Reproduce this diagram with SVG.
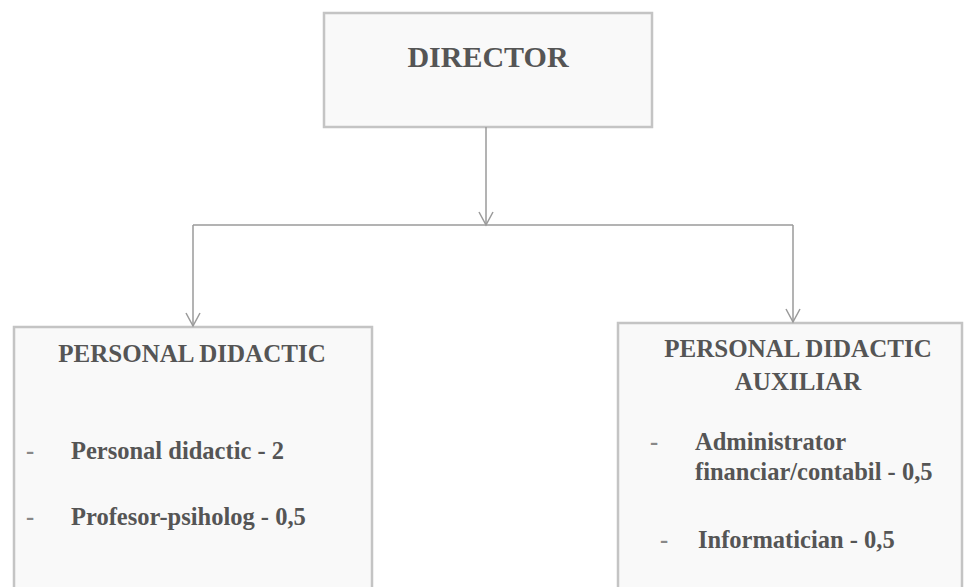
<svg xmlns="http://www.w3.org/2000/svg" width="964" height="587" viewBox="0 0 964 587">
<defs>
<style>
.box{fill:#f9f9f9;stroke:#c4c4c4;stroke-width:2.5}
.t{font-family:"Liberation Serif","Times New Roman",serif;font-weight:bold;fill:#555}
.h{font-size:25px}
.b{font-size:24.5px}
.d{fill:#888}
.con{fill:none;stroke:#9a9a9a;stroke-width:1.5}
</style>
<marker id="ah" markerWidth="16" markerHeight="16" refX="14" refY="8" orient="auto" markerUnits="userSpaceOnUse" viewBox="0 0 16 16">
<path d="M1,1 L14,8 L1,15" fill="none" stroke="#9a9a9a" stroke-width="1.5"/>
</marker>
</defs>
<rect width="964" height="587" fill="#ffffff"/>
<g id="director">
<rect class="box" x="324" y="13" width="328" height="114"/>
<text class="t" x="488" y="67" text-anchor="middle" font-size="30">DIRECTOR</text>
</g>
<g id="personal-didactic">
<rect class="box" x="14" y="327" width="358" height="280"/>
<text class="t h" x="192" y="362" text-anchor="middle">PERSONAL DIDACTIC</text>
<text class="t b d" x="26" y="459">-</text>
<text class="t b" x="71" y="459">Personal didactic - 2</text>
<text class="t b d" x="26" y="525">-</text>
<text class="t b" x="71" y="525">Profesor-psiholog - 0,5</text>
</g>
<g id="personal-didactic-auxiliar">
<rect class="box" x="618" y="323" width="344" height="284"/>
<text class="t h" x="798" y="357" text-anchor="middle">PERSONAL DIDACTIC</text>
<text class="t h" x="798" y="390" text-anchor="middle">AUXILIAR</text>
<text class="t b d" x="650" y="450">-</text>
<text class="t b" x="695" y="450">Administrator</text>
<text class="t b" x="695" y="480">financiar/contabil - 0,5</text>
<text class="t b d" x="660" y="548">-</text>
<text class="t b" x="698" y="548">Informatician - 0,5</text>
</g>
<g id="connectors">
<line class="con" x1="486" y1="127" x2="486" y2="225" marker-end="url(#ah)"/>
<line class="con" x1="193" y1="225" x2="793" y2="225"/>
<line class="con" x1="193" y1="225" x2="193" y2="326" marker-end="url(#ah)"/>
<line class="con" x1="793" y1="225" x2="793" y2="322" marker-end="url(#ah)"/>
</g>
</svg>
